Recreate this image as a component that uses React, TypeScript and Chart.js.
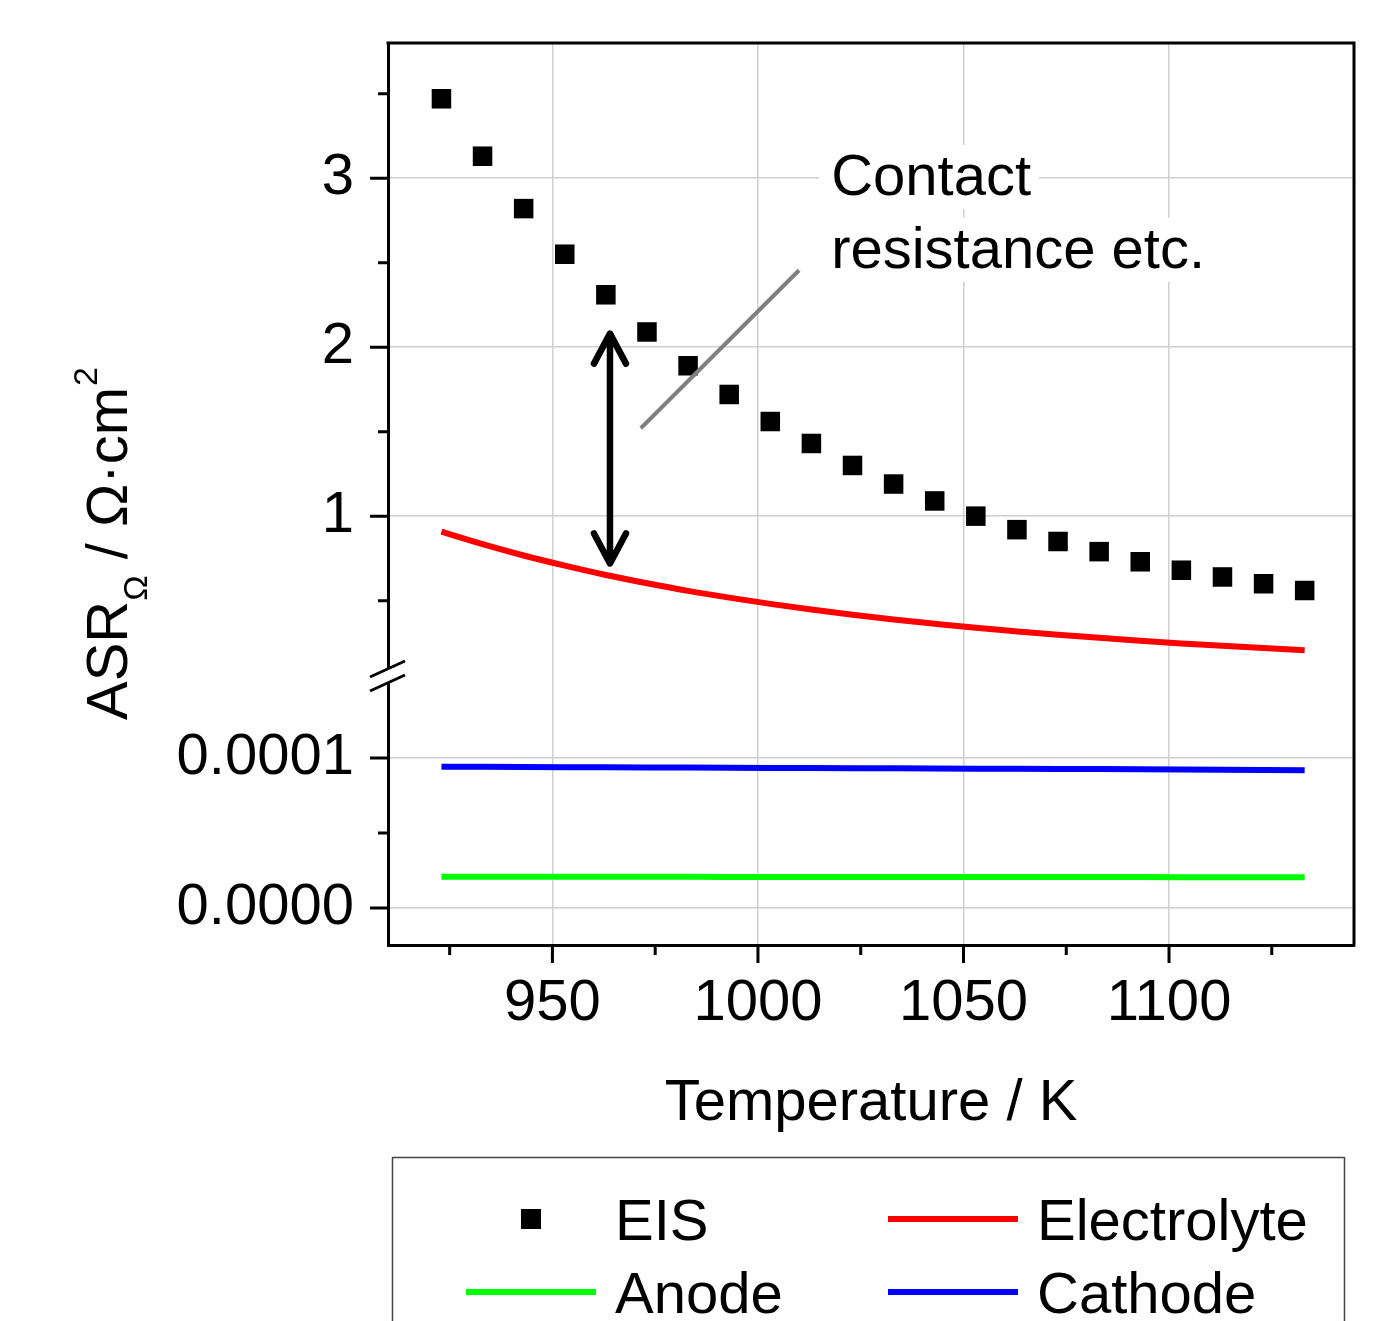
import React, { useEffect, useRef } from 'react';
import { Chart, registerables } from 'chart.js';

Chart.register(...registerables);

const FONT = "'Liberation Sans', Arial, Helvetica, sans-serif";

// ---------- data ----------
const temperatures = [923, 933, 943, 953, 963, 973, 983, 993, 1003, 1013, 1023, 1033, 1043, 1053, 1063, 1073, 1083, 1093, 1103, 1113, 1123, 1133];
const eisValues = [3.47, 3.13, 2.82, 2.55, 2.31, 2.09, 1.89, 1.72, 1.56, 1.43, 1.30, 1.19, 1.09, 1.00, 0.92, 0.85, 0.79, 0.73, 0.68, 0.64, 0.60, 0.56];
const electrolyteValues = [0.908, 0.834, 0.767, 0.707, 0.652, 0.603, 0.558, 0.518, 0.481, 0.447, 0.416, 0.388, 0.363, 0.339, 0.318, 0.298, 0.280, 0.263, 0.247, 0.233, 0.219, 0.207];
const cathodeValues = [0.0000942, 0.0000941, 0.0000940, 0.0000939, 0.0000938, 0.0000937, 0.0000936, 0.0000935, 0.0000934, 0.0000933, 0.0000932, 0.0000931, 0.0000930, 0.0000929, 0.0000928, 0.0000927, 0.0000926, 0.0000925, 0.0000923, 0.0000921, 0.0000920, 0.0000918];
const anodeValues = [0.0000209, 0.0000209, 0.0000209, 0.0000208, 0.0000208, 0.0000208, 0.0000208, 0.0000207, 0.0000207, 0.0000207, 0.0000207, 0.0000207, 0.0000206, 0.0000206, 0.0000206, 0.0000206, 0.0000206, 0.0000206, 0.0000205, 0.0000205, 0.0000205, 0.0000205];

// ---------- ticks ----------
const xMajorTicks = [950, 1000, 1050, 1100];
const xMinorTicks = [925, 975, 1025, 1075, 1125];
const yUpperMajorTicks = [1, 2, 3];
const yUpperMinorTicks = [0.5, 1.5, 2.5, 3.5];
const yLowerMajorTicks = [0, 0.0001];
const yLowerMinorTicks = [0.00005];

// ---------- labels ----------
const xTitle = 'Temperature / K';
const annotationLines = ['Contact', 'resistance etc.'];
const seriesNames = ['EIS', 'Electrolyte', 'Anode', 'Cathode'];

const toPoints = (vals: number[]) => temperatures.map((t, i) => ({ x: t, y: vals[i] }));

const decorPlugin = {
  id: 'decor',
  afterDraw(chart: any) {
    const ctx: CanvasRenderingContext2D = chart.ctx;
    const sx = chart.scales.x;
    const sy = chart.scales.y;
    const sy2 = chart.scales.y2;
    const area = chart.chartArea;
    const L = area.left;
    ctx.save();

    // frame top/right
    ctx.strokeStyle = '#000';
    ctx.lineWidth = 3;
    ctx.lineCap = 'butt';
    ctx.beginPath();
    ctx.moveTo(L - 1.5, area.top);
    ctx.lineTo(area.right, area.top);
    ctx.lineTo(area.right, area.bottom + 1.5);
    ctx.stroke();

    // tick marks
    ctx.beginPath();
    xMajorTicks.forEach((v) => { const p = sx.getPixelForValue(v); ctx.moveTo(p, area.bottom); ctx.lineTo(p, area.bottom + 18); });
    xMinorTicks.forEach((v) => { const p = sx.getPixelForValue(v); ctx.moveTo(p, area.bottom); ctx.lineTo(p, area.bottom + 10); });
    yUpperMajorTicks.forEach((v) => { const p = sy.getPixelForValue(v); ctx.moveTo(L, p); ctx.lineTo(L - 18, p); });
    yUpperMinorTicks.forEach((v) => { const p = sy.getPixelForValue(v); ctx.moveTo(L, p); ctx.lineTo(L - 10, p); });
    yLowerMajorTicks.forEach((v) => { const p = sy2.getPixelForValue(v); ctx.moveTo(L, p); ctx.lineTo(L - 18, p); });
    yLowerMinorTicks.forEach((v) => { const p = sy2.getPixelForValue(v); ctx.moveTo(L, p); ctx.lineTo(L - 10, p); });
    ctx.stroke();

    // axis break
    const yb = sy.bottom;
    ctx.fillStyle = '#fff';
    ctx.fillRect(L - 4, yb - 7, 8, 14);
    ctx.beginPath();
    [-7, 7].forEach((d) => { ctx.moveTo(L - 18, yb + d + 8); ctx.lineTo(L + 17, yb + d - 8); });
    ctx.stroke();

    // grey pointer line
    ctx.strokeStyle = '#808080';
    ctx.lineWidth = 4;
    ctx.beginPath();
    ctx.moveTo(sx.getPixelForValue(971.5), sy.getPixelForValue(1.52));
    ctx.lineTo(sx.getPixelForValue(1010), sy.getPixelForValue(2.455));
    ctx.stroke();

    // double arrow
    const ax = sx.getPixelForValue(964);
    const aTop = sy.getPixelForValue(2.08);
    const aBot = sy.getPixelForValue(0.72);
    ctx.strokeStyle = '#000';
    ctx.lineWidth = 6.5;
    ctx.lineCap = 'round';
    ctx.lineJoin = 'round';
    ctx.beginPath();
    ctx.moveTo(ax, aTop + 2);
    ctx.lineTo(ax, aBot - 2);
    ctx.moveTo(ax - 16, aTop + 30);
    ctx.lineTo(ax, aTop);
    ctx.lineTo(ax + 16, aTop + 30);
    ctx.moveTo(ax - 16, aBot - 30);
    ctx.lineTo(ax, aBot);
    ctx.lineTo(ax + 16, aBot - 30);
    ctx.stroke();

    // annotation text with white background
    ctx.font = `58px ${FONT}`;
    ctx.textAlign = 'left';
    ctx.textBaseline = 'alphabetic';
    const tx = sx.getPixelForValue(1017.8);
    const baselines = [sy.getPixelForValue(2.9), sy.getPixelForValue(2.47)];
    annotationLines.forEach((t, i) => {
      const w = ctx.measureText(t).width;
      ctx.fillStyle = '#fff';
      ctx.fillRect(tx - 12, baselines[i] - 50, w + 20, 64);
    });
    ctx.fillStyle = '#000';
    annotationLines.forEach((t, i) => ctx.fillText(t, tx, baselines[i]));

    // x title
    ctx.textAlign = 'center';
    ctx.fillText(xTitle, (area.left + area.right) / 2, 1120);

    // y title (rotated)
    ctx.save();
    ctx.translate(127, 720);
    ctx.rotate(-Math.PI / 2);
    ctx.textAlign = 'left';
    let cx = 0;
    ctx.font = `58px ${FONT}`;
    ctx.fillText('ASR', cx, 0);
    cx += ctx.measureText('ASR').width;
    ctx.font = `34px ${FONT}`;
    ctx.fillText('Ω', cx, 20);
    cx += ctx.measureText('Ω').width;
    ctx.font = `58px ${FONT}`;
    ctx.fillText(' / Ω·cm', cx, 0);
    cx += ctx.measureText(' / Ω·cm').width;
    ctx.font = `34px ${FONT}`;
    ctx.fillText('2', cx + 1, -30);
    ctx.restore();

    // legend
    ctx.strokeStyle = '#444';
    ctx.lineWidth = 1.5;
    ctx.strokeRect(392.5, 1157.5, 952, 220);
    ctx.font = `58px ${FONT}`;
    ctx.textAlign = 'left';
    ctx.fillStyle = '#000';
    const ds = chart.data.datasets;
    ctx.fillStyle = ds[0].backgroundColor;
    ctx.fillRect(521, 1209, 20, 20);
    ctx.fillStyle = '#000';
    ctx.fillText(seriesNames[0], 615, 1240);
    const legendLine = (x0: number, yv: number, color: string, w: number) => {
      ctx.strokeStyle = color;
      ctx.lineWidth = w;
      ctx.lineCap = 'butt';
      ctx.beginPath();
      ctx.moveTo(x0, yv);
      ctx.lineTo(x0 + 130, yv);
      ctx.stroke();
    };
    legendLine(888, 1219, ds[1].borderColor, 6);
    ctx.fillText(seriesNames[1], 1037, 1240);
    legendLine(466, 1292, ds[2].borderColor, 6);
    ctx.fillText(seriesNames[2], 615, 1313);
    legendLine(888, 1292, ds[3].borderColor, 6);
    ctx.fillText(seriesNames[3], 1037, 1313);

    ctx.restore();
  },
};

export default function App() {
  const ref = useRef<HTMLCanvasElement | null>(null);

  useEffect(() => {
    document.body.style.margin = '0';
    const canvas = ref.current;
    if (!canvas) return;
    const gridColor = '#cfcfcf';
    const tickFont = { family: FONT, size: 58 };
    const noPad = (s: any) => { s.paddingTop = 0; s.paddingBottom = 0; s.paddingLeft = 0; s.paddingRight = 0; };
    const chart = new Chart(canvas, {
      type: 'line',
      data: {
        datasets: [
          {
            label: seriesNames[0],
            data: toPoints(eisValues),
            showLine: false,
            pointStyle: 'rect',
            pointRadius: 13.8,
            pointBorderWidth: 0,
            backgroundColor: '#000000',
            borderColor: '#000000',
            yAxisID: 'y',
          },
          {
            label: seriesNames[1],
            data: toPoints(electrolyteValues),
            borderColor: '#ff0000',
            borderWidth: 6,
            pointRadius: 0,
            cubicInterpolationMode: 'monotone',
            yAxisID: 'y',
          },
          {
            label: seriesNames[2],
            data: toPoints(anodeValues),
            borderColor: '#00ff00',
            borderWidth: 6,
            pointRadius: 0,
            yAxisID: 'y2',
          },
          {
            label: seriesNames[3],
            data: toPoints(cathodeValues),
            borderColor: '#0000ff',
            borderWidth: 6,
            pointRadius: 0,
            yAxisID: 'y2',
          },
        ],
      } as any,
      options: {
        responsive: false,
        animation: false,
        layout: { padding: { left: 0, top: 43, right: 34, bottom: 0 } },
        plugins: { legend: { display: false }, tooltip: { enabled: false } },
        scales: {
          x: {
            type: 'linear',
            min: 910,
            max: 1145,
            afterBuildTicks: (s: any) => { s.ticks = xMajorTicks.map((v) => ({ value: v })); },
            afterFit: (s: any) => { s.height = 1321 - 945; noPad(s); },
            grid: { color: gridColor, lineWidth: 1.5, drawTicks: false },
            border: { display: true, color: '#000', width: 3 },
            ticks: { color: '#000', font: tickFont, padding: 24, maxRotation: 0, autoSkip: false, callback: (v: any) => String(v) },
          },
          y2: {
            type: 'linear',
            position: 'left',
            stack: 'main',
            stackWeight: 269,
            min: -0.0000247,
            max: 0.0001547,
            afterBuildTicks: (s: any) => { s.ticks = yLowerMajorTicks.map((v) => ({ value: v })); },
            afterFit: (s: any) => { s.width = 388; noPad(s); },
            grid: { color: gridColor, lineWidth: 1.5, drawTicks: false },
            border: { display: true, color: '#000', width: 3 },
            ticks: { color: '#000', font: tickFont, padding: 34, callback: (v: any) => Number(v).toFixed(4) },
          },
          y: {
            type: 'linear',
            position: 'left',
            stack: 'main',
            stackWeight: 633,
            min: 0.054,
            max: 3.8,
            afterBuildTicks: (s: any) => { s.ticks = yUpperMajorTicks.map((v) => ({ value: v })); },
            afterFit: (s: any) => { s.width = 388; noPad(s); },
            grid: { color: gridColor, lineWidth: 1.5, drawTicks: false },
            border: { display: true, color: '#000', width: 3 },
            ticks: { color: '#000', font: tickFont, padding: 34, callback: (v: any) => String(v) },
          },
        },
      } as any,
      plugins: [decorPlugin as any],
    });
    return () => chart.destroy();
  }, []);

  return (
    <div style={{ position: 'absolute', left: 0, top: 0, width: 1388, height: 1321, background: '#fff' }}>
      <canvas ref={ref} width={1388} height={1321} style={{ display: 'block' }} />
    </div>
  );
}
